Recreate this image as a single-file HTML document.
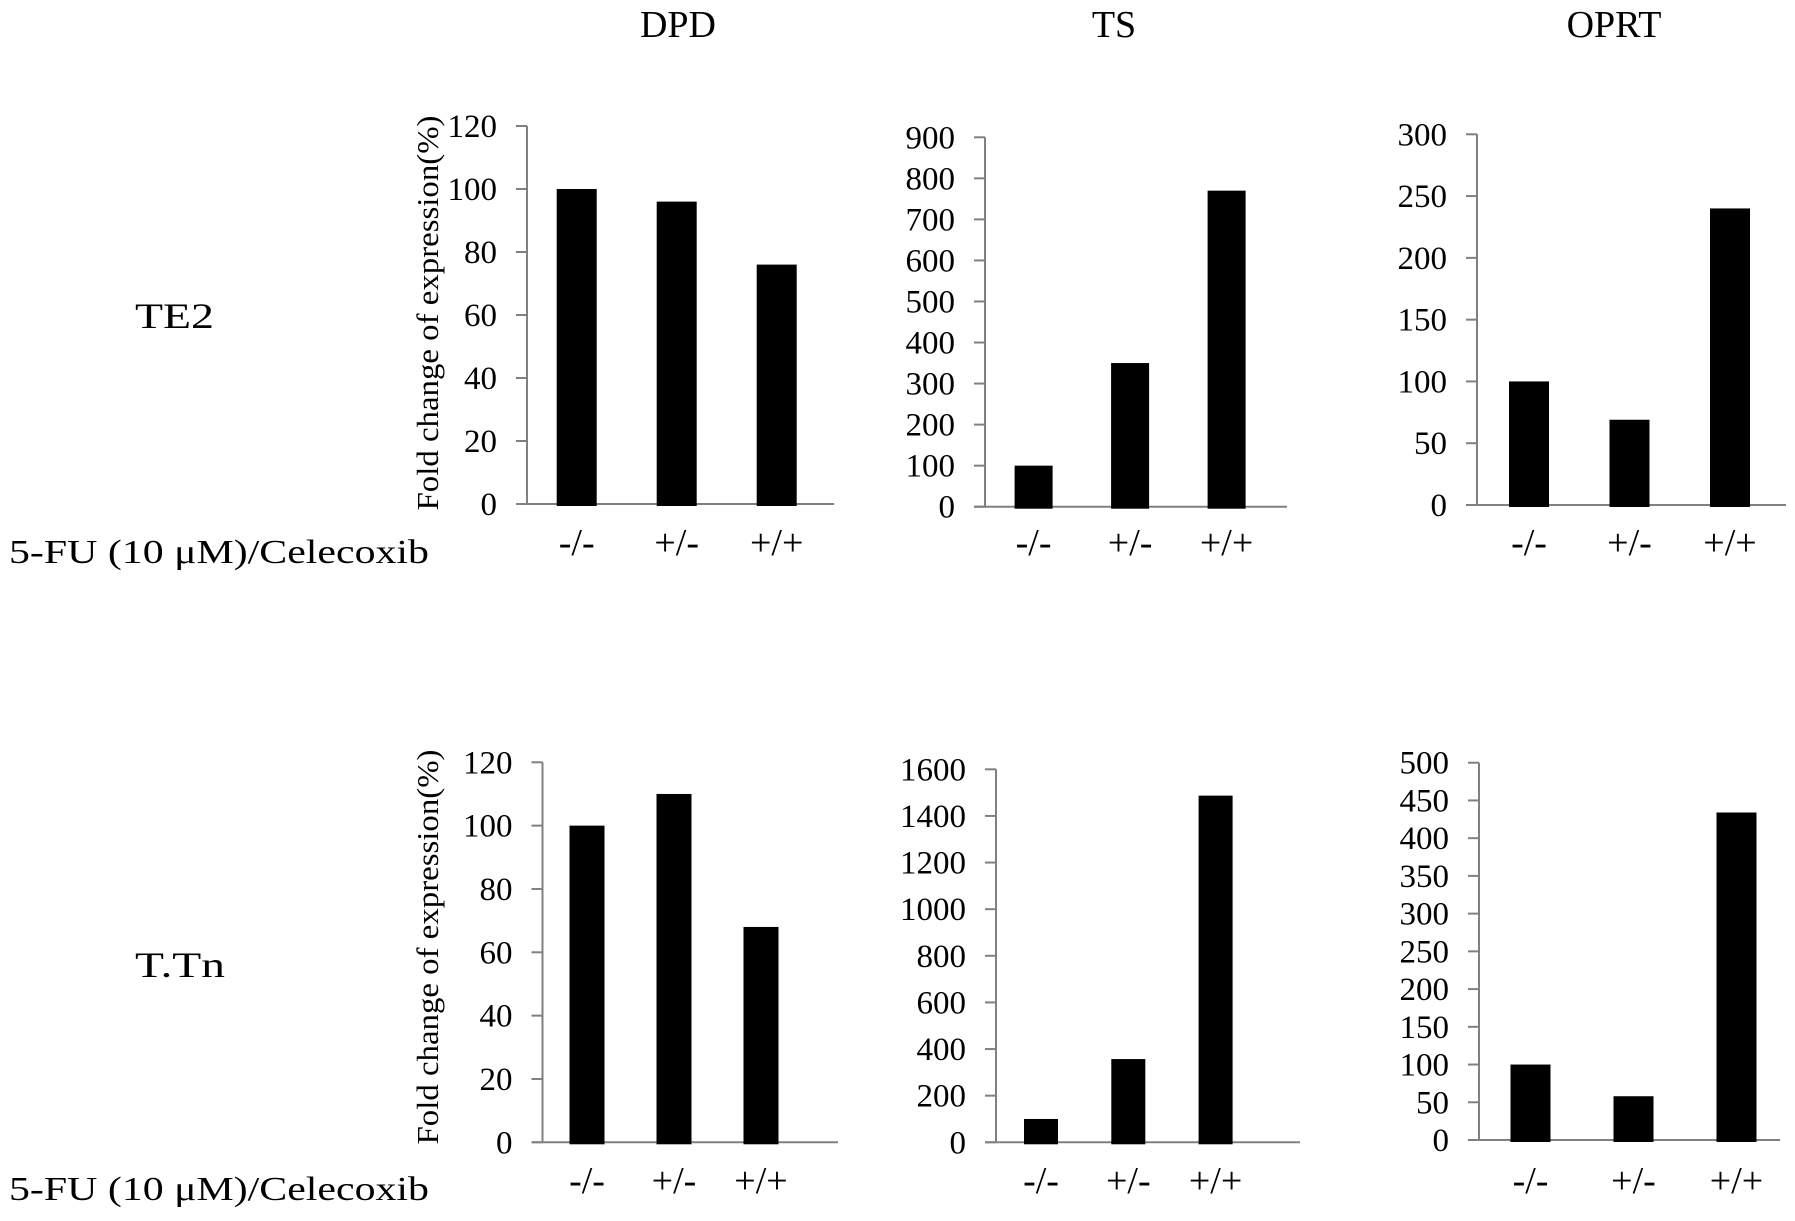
<!DOCTYPE html>
<html><head><meta charset="utf-8"><style>
html,body{margin:0;padding:0;background:#fff;}
svg{display:block;font-family:"Liberation Serif",serif;}
</style></head><body>
<svg id="fig" width="1795" height="1221" viewBox="0 0 1795 1221" xmlns="http://www.w3.org/2000/svg">
<text x="678" y="37" font-size="38" text-anchor="middle">DPD</text>
<text x="1114" y="37" font-size="38" text-anchor="middle">TS</text>
<text x="1614" y="37" font-size="38" text-anchor="middle">OPRT</text>
<text x="135" y="328" font-size="36" textLength="79" lengthAdjust="spacingAndGlyphs">TE2</text>
<text x="135" y="977" font-size="36" textLength="90" lengthAdjust="spacingAndGlyphs">T.Tn</text>
<text x="9" y="563" font-size="34" textLength="420" lengthAdjust="spacingAndGlyphs">5-FU (10 μM)/Celecoxib</text>
<text x="9" y="1200" font-size="34" textLength="420" lengthAdjust="spacingAndGlyphs">5-FU (10 μM)/Celecoxib</text>
<text transform="translate(438,313) rotate(-90)" font-size="31" text-anchor="middle" textLength="395" lengthAdjust="spacingAndGlyphs">Fold change of expression(%)</text>
<text transform="translate(438,947) rotate(-90)" font-size="31" text-anchor="middle" textLength="395" lengthAdjust="spacingAndGlyphs">Fold change of expression(%)</text>
<g id="charts"></g>
</svg>
<script>
const categories = ["-/-", "+/-", "+/+"];
const te2Dpd = [100, 96, 76];
const te2Ts = [100, 350, 770];
const te2Oprt = [100, 69, 240];
const ttnDpd = [100, 110, 68];
const ttnTs = [100, 357, 1487];
const ttnOprt = [100, 58, 434];
const te2DpdTicks = [0, 20, 40, 60, 80, 100, 120];
const te2TsTicks = [0, 100, 200, 300, 400, 500, 600, 700, 800, 900];
const te2OprtTicks = [0, 50, 100, 150, 200, 250, 300];
const ttnDpdTicks = [0, 20, 40, 60, 80, 100, 120];
const ttnTsTicks = [0, 200, 400, 600, 800, 1000, 1200, 1400, 1600];
const ttnOprtTicks = [0, 50, 100, 150, 200, 250, 300, 350, 400, 450, 500];

const panels = [
 {name:"te2-dpd", vals:te2Dpd, ticks:te2DpdTicks, ax:527, right:834, top:126, zero:504, c0:576.7, sp:100, bw:40, ly:555},
 {name:"te2-ts", vals:te2Ts, ticks:te2TsTicks, ax:985, right:1287, top:137.3, zero:506.7, c0:1033.6, sp:96.5, bw:38, ly:555},
 {name:"te2-oprt", vals:te2Oprt, ticks:te2OprtTicks, ax:1477, right:1786, top:134.3, zero:505, c0:1529, sp:100.5, bw:40, ly:555},
 {name:"ttn-dpd", vals:ttnDpd, ticks:ttnDpdTicks, ax:542.5, right:838, top:762.3, zero:1142.3, c0:587, sp:87, bw:35, ly:1193},
 {name:"ttn-ts", vals:ttnTs, ticks:ttnTsTicks, ax:996, right:1300, top:769.3, zero:1142.3, c0:1041, sp:87.3, bw:34, ly:1193},
 {name:"ttn-oprt", vals:ttnOprt, ticks:ttnOprtTicks, ax:1479, right:1780, top:762.7, zero:1140, c0:1530.5, sp:103, bw:40, ly:1193}
];
const NS = "http://www.w3.org/2000/svg";
const root = document.getElementById("charts");
function mk(tag, attrs, parent){const e=document.createElementNS(NS,tag);for(const k in attrs)e.setAttribute(k,attrs[k]);parent.appendChild(e);return e;}
panels.forEach(p=>{
  const g = mk("g",{},root);
  
  
  const max = p.ticks[p.ticks.length-1];
  const y = v => p.zero - (v/max)*(p.zero-p.top);
  const ya = mk("line",{x1:p.ax, y1:p.top, x2:p.ax, y2:p.zero, stroke:"#808080", "stroke-width":2},g);
  
  
  const xa = mk("line",{x1:p.ax-11, y1:p.zero, x2:p.right, y2:p.zero, stroke:"#808080", "stroke-width":2},g);
  
  
  p.ticks.forEach(tv=>{
    const ty = y(tv);
    const tk = mk("line",{x1:p.ax-11, y1:ty, x2:p.ax, y2:ty, stroke:"#808080", "stroke-width":2},g);
    
    
    const tl = mk("text",{x:p.ax-30, y:ty+11, "font-size":33, "text-anchor":"end"},g);
    tl.textContent = tv;
    
    
  });
  p.vals.forEach((v,i)=>{
    const cx = p.c0 + i*p.sp;
    const r = mk("rect",{x:cx-p.bw/2, y:y(v), width:p.bw, height:p.zero-y(v)+2, fill:"#000"},g);
    
    
    const t = mk("text",{x:cx, y:p.ly, "font-size":38, "text-anchor":"middle"},g);
    t.textContent = categories[i];
    
    
  });
});
</script>
</body></html>
